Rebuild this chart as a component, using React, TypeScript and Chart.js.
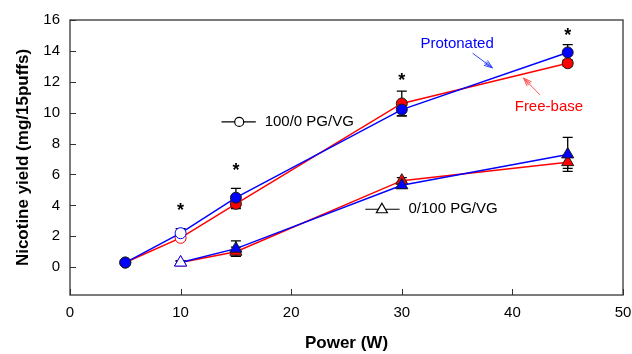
import React, { useEffect, useRef } from 'react';
import { Chart, registerables } from 'chart.js';

Chart.register(...registerables);

// ---- data ----
const powers100 = [5, 10, 15, 30, 45];
const protonated100 = [0.3, 2.2, 4.5, 10.2, 13.9];
const freebase100 = [0.3, 1.9, 4.1, 10.6, 13.2];
const protonated100Err = [0.1, 0.3, 0.6, 0.4, 0.5];
const freebase100Err = [0.1, 0.15, 0.3, 0.8, 0.2];

const powers0 = [10, 15, 30, 45];
const protonated0 = [0.3, 1.2, 5.3, 7.3];
const freebase0 = [0.3, 1.0, 5.6, 6.8];
const protonated0Err = [0.1, 0.5, 0.2, 1.1];
const freebase0Err = [0.1, 0.3, 0.2, 0.4];

const xTicks = [0, 10, 20, 30, 40, 50];
const yTicks = [0, 2, 4, 6, 8, 10, 12, 14, 16];

const asteriskX = [10, 15, 30, 45];
const asteriskY = [3.9, 6.5, 12.3, 15.2];

const xTitle = 'Power (W)';
const yTitle = 'Nicotine yield (mg/15puffs)';
const label100 = '100/0 PG/VG';
const label0 = '0/100 PG/VG';
const labelProtonated = 'Protonated';
const labelFreebase = 'Free-base';

// annotation anchors in data units
const label100Pos = { x1: 13.7, x2: 16.8, xm: 15.3, xt: 17.6, y: 9.4 };
const label0Pos = { x1: 26.7, x2: 29.8, xm: 28.2, xt: 30.6, y: 3.75 };
const protonatedText = { x: 35.0, y: 14.45 };
const protonatedArrow = { x1: 36.4, y1: 13.85, x2: 38.2, y2: 12.9 };
const freebaseText = { x: 43.3, y: 10.35 };
const freebaseArrow = { x1: 42.5, y1: 11.15, x2: 41.0, y2: 12.25 };

const BLUE = '#0000ff';
const RED = '#ff0000';
const EDGE = '#1a1a1a';
const FONT = '"Liberation Sans", Arial, Helvetica, sans-serif';

const pts = (xs: number[], ys: number[]) => xs.map((x, i) => ({ x, y: ys[i] }));

const fills = (color: string, n: number, openIdx: number) =>
  Array.from({ length: n }, (_, i) => (i === openIdx ? '#ffffff' : color));
const edges = (color: string, n: number, openIdx: number) =>
  Array.from({ length: n }, (_, i) => (i === openIdx ? color : EDGE));

const errorSets = [
  { xs: powers100, ys: protonated100, err: protonated100Err },
  { xs: powers0, ys: protonated0, err: protonated0Err },
  { xs: powers100, ys: freebase100, err: freebase100Err },
  { xs: powers0, ys: freebase0, err: freebase0Err },
];

function arrow(ctx: CanvasRenderingContext2D, x1: number, y1: number, x2: number, y2: number, color: string) {
  ctx.save();
  ctx.strokeStyle = color;
  ctx.lineWidth = 1;
  ctx.beginPath();
  ctx.moveTo(x1, y1);
  ctx.lineTo(x2, y2);
  ctx.stroke();
  const a = Math.atan2(y2 - y1, x2 - x1);
  const L = 9;
  for (const s of [-1, 1]) {
    ctx.beginPath();
    ctx.moveTo(x2, y2);
    ctx.lineTo(x2 - L * Math.cos(a + s * 0.35), y2 - L * Math.sin(a + s * 0.35));
    ctx.stroke();
  }
  ctx.beginPath();
  ctx.moveTo(x2 - 1.5 * Math.cos(a), y2 - 1.5 * Math.sin(a));
  ctx.lineTo(x2 - L * Math.cos(a + 0.15), y2 - L * Math.sin(a + 0.15));
  ctx.moveTo(x2 - 1.5 * Math.cos(a), y2 - 1.5 * Math.sin(a));
  ctx.lineTo(x2 - L * Math.cos(a - 0.15), y2 - L * Math.sin(a - 0.15));
  ctx.stroke();
  ctx.restore();
}

const decorPlugin = {
  id: 'decor',
  beforeDatasetsDraw(chart: any) {
    const { ctx, scales } = chart;
    const xs = scales.x, ys = scales.y;
    ctx.save();
    ctx.strokeStyle = '#000';
    ctx.lineWidth = 1.3;
    for (const s of errorSets) {
      s.xs.forEach((x, i) => {
        const px = xs.getPixelForValue(x);
        const top = ys.getPixelForValue(s.ys[i] + s.err[i]);
        const bot = ys.getPixelForValue(s.ys[i] - s.err[i]);
        ctx.beginPath();
        ctx.moveTo(px, top);
        ctx.lineTo(px, bot);
        ctx.moveTo(px - 5, top);
        ctx.lineTo(px + 5, top);
        ctx.moveTo(px - 5, bot);
        ctx.lineTo(px + 5, bot);
        ctx.stroke();
      });
    }
    ctx.restore();
  },
  afterDatasetsDraw(chart: any) {
    const { ctx, scales, chartArea } = chart;
    const xs = scales.x, ys = scales.y;
    const X = (v: number) => xs.getPixelForValue(v);
    const Y = (v: number) => ys.getPixelForValue(v);
    ctx.save();
    // frame
    ctx.strokeStyle = '#505050';
    ctx.lineWidth = 1.5;
    ctx.strokeRect(chartArea.left, chartArea.top, chartArea.right - chartArea.left, chartArea.bottom - chartArea.top);
    // inward ticks
    ctx.strokeStyle = '#303030';
    ctx.lineWidth = 1;
    ctx.beginPath();
    for (const v of yTicks) {
      const py = Math.round(Y(v)) + 0.5;
      ctx.moveTo(chartArea.left, py);
      ctx.lineTo(chartArea.left + 6, py);
    }
    for (const v of xTicks) {
      const px = Math.round(X(v)) + 0.5;
      ctx.moveTo(px, chartArea.bottom);
      ctx.lineTo(px, chartArea.bottom - 6);
    }
    ctx.stroke();

    // asterisks
    ctx.fillStyle = '#000';
    ctx.font = `bold 18px ${FONT}`;
    ctx.textAlign = 'center';
    ctx.textBaseline = 'middle';
    asteriskX.forEach((x, i) => ctx.fillText('*', X(x), Y(asteriskY[i]) + 4));

    // legend-like labels
    ctx.font = `15px ${FONT}`;
    ctx.textAlign = 'left';
    ctx.strokeStyle = '#000';
    ctx.lineWidth = 1.2;
    // 100/0
    ctx.beginPath();
    ctx.moveTo(X(label100Pos.x1), Y(label100Pos.y));
    ctx.lineTo(X(label100Pos.x2), Y(label100Pos.y));
    ctx.stroke();
    ctx.beginPath();
    ctx.arc(X(label100Pos.xm), Y(label100Pos.y), 4.5, 0, Math.PI * 2);
    ctx.fillStyle = '#fff';
    ctx.fill();
    ctx.stroke();
    ctx.fillStyle = '#000';
    ctx.fillText(label100, X(label100Pos.xt), Y(label100Pos.y));
    // 0/100
    ctx.beginPath();
    ctx.moveTo(X(label0Pos.x1), Y(label0Pos.y));
    ctx.lineTo(X(label0Pos.x2), Y(label0Pos.y));
    ctx.stroke();
    const tx = X(label0Pos.xm), ty = Y(label0Pos.y);
    ctx.beginPath();
    ctx.moveTo(tx, ty - 6);
    ctx.lineTo(tx + 5.5, ty + 3.5);
    ctx.lineTo(tx - 5.5, ty + 3.5);
    ctx.closePath();
    ctx.fillStyle = '#fff';
    ctx.fill();
    ctx.stroke();
    ctx.fillStyle = '#000';
    ctx.fillText(label0, X(label0Pos.xt), ty);

    // Protonated / Free-base
    ctx.textAlign = 'center';
    ctx.fillStyle = BLUE;
    ctx.fillText(labelProtonated, X(protonatedText.x), Y(protonatedText.y));
    arrow(ctx, X(protonatedArrow.x1), Y(protonatedArrow.y1), X(protonatedArrow.x2), Y(protonatedArrow.y2), '#3344ff');
    ctx.fillStyle = RED;
    ctx.fillText(labelFreebase, X(freebaseText.x), Y(freebaseText.y));
    arrow(ctx, X(freebaseArrow.x1), Y(freebaseArrow.y1), X(freebaseArrow.x2), Y(freebaseArrow.y2), '#ff5555');
    ctx.restore();
  },
};

export default function App() {
  const ref = useRef<HTMLCanvasElement | null>(null);

  useEffect(() => {
    if (!ref.current) return;
    const chart = new Chart(ref.current, {
      type: 'line',
      data: {
        datasets: [
          {
            label: 'Protonated 100/0',
            data: pts(powers100, protonated100),
            borderColor: BLUE,
            borderWidth: 1.5,
            pointStyle: 'circle',
            pointRadius: 5.5,
            pointBorderWidth: 1,
            pointBackgroundColor: fills(BLUE, 5, 1),
            pointBorderColor: edges(BLUE, 5, 1),
            tension: 0,
          },
          {
            label: 'Protonated 0/100',
            data: pts(powers0, protonated0),
            borderColor: BLUE,
            borderWidth: 1.5,
            pointStyle: 'triangle',
            pointRadius: 7,
            pointBorderWidth: 1,
            pointBackgroundColor: fills(BLUE, 4, 0),
            pointBorderColor: edges(BLUE, 4, 0),
            tension: 0,
          },
          {
            label: 'Free-base 100/0',
            data: pts(powers100, freebase100),
            borderColor: RED,
            borderWidth: 1.5,
            pointStyle: 'circle',
            pointRadius: 5.5,
            pointBorderWidth: 1,
            pointBackgroundColor: fills(RED, 5, 1),
            pointBorderColor: edges(RED, 5, 1),
            tension: 0,
          },
          {
            label: 'Free-base 0/100',
            data: pts(powers0, freebase0),
            borderColor: RED,
            borderWidth: 1.5,
            pointStyle: 'triangle',
            pointRadius: 7,
            pointBorderWidth: 1,
            pointBackgroundColor: fills(RED, 4, 0),
            pointBorderColor: edges(RED, 4, 0),
            tension: 0,
          },
        ],
      },
      options: {
        responsive: false,
        animation: false,
        layout: { padding: { left: 0, right: 0, top: 20, bottom: 0 } },
        plugins: { legend: { display: false }, tooltip: { enabled: false } },
        scales: {
          x: {
            type: 'linear',
            min: 0,
            max: 50,
            afterBuildTicks: (s: any) => { s.ticks = xTicks.map((v) => ({ value: v })); },
            afterFit: (s: any) => { s.height = 59; s.paddingRight = 9; s.paddingLeft = 0; },
            grid: { display: false, drawTicks: false },
            border: { display: false },
            ticks: { color: '#000', font: { family: FONT, size: 15 }, padding: 9, maxRotation: 0 },
            title: {
              display: true,
              text: xTitle,
              color: '#000',
              font: { family: FONT, size: 17, weight: 'bold' },
              padding: { top: 0, bottom: 0 },
            },
          },
          y: {
            type: 'linear',
            min: -1.8,
            max: 16,
            afterBuildTicks: (s: any) => { s.ticks = yTicks.map((v) => ({ value: v })); },
            afterFit: (s: any) => { s.width = 70; },
            grid: { display: false, drawTicks: false },
            border: { display: false },
            ticks: { color: '#000', font: { family: FONT, size: 15 }, padding: 10 },
            title: {
              display: true,
              text: yTitle,
              color: '#000',
              font: { family: FONT, size: 17, weight: 'bold' },
              padding: { top: 13, bottom: 0 },
            },
          },
        },
      },
      plugins: [decorPlugin],
    });
    return () => chart.destroy();
  }, []);

  return (
    <div style={{ position: 'absolute', left: 0, top: 0, width: 632, height: 354, background: '#fff' }}>
      <canvas ref={ref} width={632} height={354} style={{ display: 'block' }} />
    </div>
  );
}
